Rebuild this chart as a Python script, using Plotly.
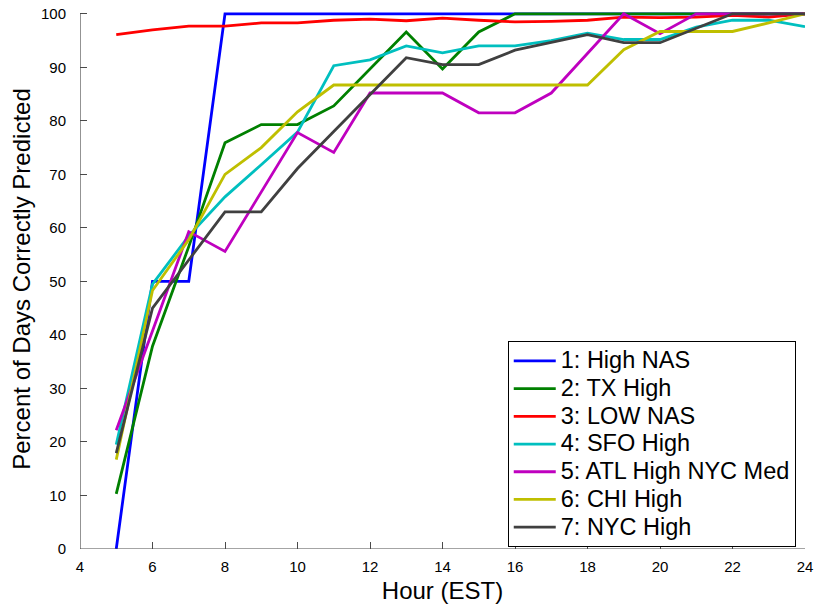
import plotly.graph_objects as go

# Hour of day (EST)
hours = list(range(5, 25))

# Percent of days correctly predicted, per cluster
high_nas = [0, 50, 50, 100, 100, 100, 100, 100, 100, 100,
            100, 100, 100, 100, 100, 100, 100, 100, 100, 100]
tx_high = [10.3, 37.9, 56.5, 75.9, 79.3, 79.3, 82.8, 89.7, 96.6, 89.7,
           96.6, 100, 100, 100, 100, 100, 100, 100, 100, 100]
low_nas = [96.1, 97.0, 97.7, 97.7, 98.3, 98.3, 98.8, 99.0, 98.7, 99.2,
           98.8, 98.5, 98.6, 98.8, 99.4, 99.3, 99.4, 99.7, 99.4, 100]
sfo_high = [19.5, 49.5, 58.5, 65.8, 71.8, 77.9, 90.3, 91.4, 94.0, 92.7,
            94.0, 94.0, 95.0, 96.4, 95.2, 95.2, 97.5, 98.8, 98.8, 97.6]
atl_high_nyc_med = [22.2, 40.7, 59.3, 55.6, 66.7, 77.8, 74.1, 85.2, 85.2, 85.2,
                    81.5, 81.5, 85.2, 92.6, 100, 96.3, 100, 100, 100, 100]
chi_high = [16.7, 48.3, 57.8, 70.0, 75.0, 81.7, 86.7, 86.7, 86.7, 86.7,
            86.7, 86.7, 86.7, 86.7, 93.3, 96.7, 96.7, 96.7, 98.3, 100]
nyc_high = [17.9, 45.0, 54.0, 63.0, 63.0, 71.1, 78.0, 84.9, 91.8, 90.5,
            90.5, 93.2, 94.7, 96.1, 94.6, 94.6, 97.3, 100, 100, 100]

series_names = ["1: High NAS", "2: TX High", "3: LOW NAS", "4: SFO High",
                "5: ATL High NYC Med", "6: CHI High", "7: NYC High"]
series_values = [high_nas, tx_high, low_nas, sfo_high,
                 atl_high_nyc_med, chi_high, nyc_high]
series_colors = ["#0000FF", "#008000", "#FF0000", "#00BFBF",
                 "#BF00BF", "#BFBF00", "#404040"]

x_ticks = list(range(4, 25, 2))
y_ticks = list(range(0, 101, 10))

FONT = "Liberation Sans, Arial, Helvetica, sans-serif"
LEGEND_TEXT_PX = 23.5  # glyph size of legend labels
LEGEND_ROW_PX = 19.0   # base size that sets the legend row pitch

fig = go.Figure()
for name, vals, color in zip(series_names, series_values, series_colors):
    fig.add_trace(go.Scatter(
        x=hours, y=vals, mode="lines",
        name=f'<span style="font-size:{LEGEND_TEXT_PX}px">{name}</span>',
        line=dict(color=color, width=2.8),
    ))

axis_color = "#4a4a4a"
fig.update_xaxes(
    range=[4, 24], tickvals=x_ticks, ticks="inside", ticklen=7,
    tickcolor=axis_color, tickwidth=1, showline=False, showgrid=False,
    zeroline=False, automargin=False, ticklabelstandoff=7,
    tickfont=dict(size=15, color="black", family=FONT),
    title=dict(text="Hour (EST)", font=dict(size=24, color="black", family=FONT),
               standoff=9),
)
fig.update_yaxes(
    range=[0, 100.9], tickvals=y_ticks, ticks="inside", ticklen=7,
    tickcolor=axis_color, tickwidth=1, showline=False, showgrid=False,
    zeroline=False, automargin=False, ticklabelstandoff=13,
    tickfont=dict(size=15, color="black", family=FONT),
    title=dict(text="Percent of Days Correctly Predicted",
               font=dict(size=24, color="black", family=FONT), standoff=3),
)

# Left and bottom axis lines, spanning exactly the data limits
fig.add_shape(type="line", xref="x", yref="y", x0=4, x1=4, y0=0, y1=100,
              line=dict(color=axis_color, width=1.2), layer="above")
fig.add_shape(type="line", xref="x", yref="y", x0=4, x1=24, y0=0, y1=0,
              line=dict(color=axis_color, width=1.2), layer="above")

fig.update_layout(
    width=817, height=604,
    margin=dict(l=80, r=12, t=9, b=55),
    paper_bgcolor="white", plot_bgcolor="white",
    font=dict(family=FONT),
    showlegend=True,
    legend=dict(
        x=0.59, y=0.385, xanchor="left", yanchor="top",
        bgcolor="white", bordercolor="black", borderwidth=1,
        font=dict(size=LEGEND_ROW_PX, color="black", family=FONT),
        tracegroupgap=0, itemwidth=42,
    ),
)

fig.write_html("out.html")
